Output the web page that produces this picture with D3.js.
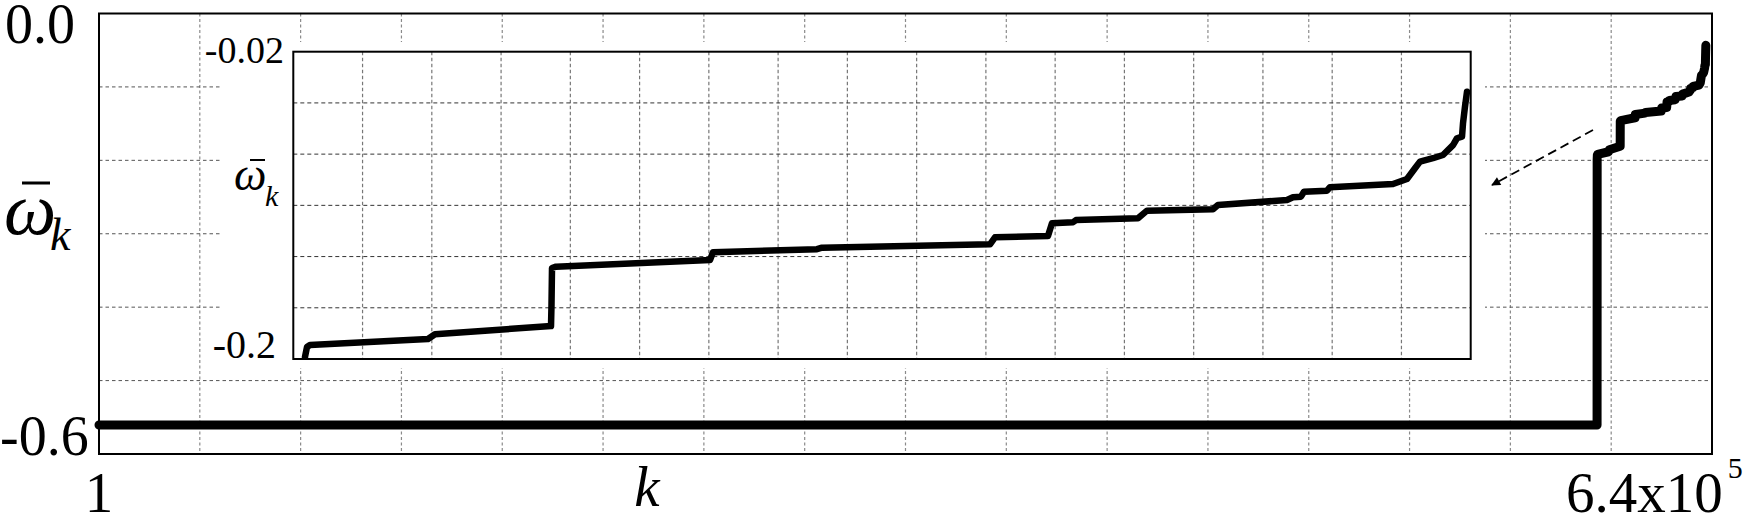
<!DOCTYPE html>
<html><head><meta charset="utf-8">
<script src="https://cdn.jsdelivr.net/npm/d3@7"></script>
<style>
body{margin:0;background:#fff}
svg{display:block}
text{font-family:"Liberation Serif","Times New Roman",serif;fill:#000}
</style>
</head><body>
<svg id="c" width="1748" height="518"></svg>
<script>
// ---- data ----
const kValues = [1, 594400, 594434, 594508, 594620, 598999, 599259, 603565, 603583, 603602, 603750,
  609466, 609577, 613437, 613623, 619858, 620043, 622010, 622159, 622938, 623050, 625351, 625685,
  628135, 628320, 630881, 631104, 631400, 631512, 632366, 632477, 634816, 635335, 635632, 635818,
  636300, 636672, 637043, 637191, 637377, 637414, 637488, 637563];
const omegaValues = [-0.5605, -0.5605, -0.1988, -0.1930, -0.1918, -0.1883, -0.1855, -0.1807, -0.1684,
  -0.1467, -0.1459, -0.1420, -0.1375, -0.1357, -0.1348, -0.1328, -0.1287, -0.1280, -0.1205, -0.1199,
  -0.1186, -0.1176, -0.1131, -0.1123, -0.1098, -0.1069, -0.1053, -0.1049, -0.1020, -0.1014, -0.0994,
  -0.0975, -0.0946, -0.0883, -0.0844, -0.0824, -0.0805, -0.0747, -0.0707, -0.0698, -0.0620, -0.0522,
  -0.0434];
const mainXDomain = [1, 640000];
const mainYDomain = [-0.6, 0.0];
const insetXDomain = [594000, 637700];
const insetYDomain = [-0.2, -0.02];
const mainYTickLabels = ["0.0", "-0.6"];
const insetYTickLabels = ["-0.02", "-0.2"];
const mainXTickLabels = ["1", "6.4x10", "5"];

const data = kValues.map((k, i) => ({k, w: omegaValues[i]}));
const svg = d3.select("#c");

// ---- main plot ----
const M = {l: 99, t: 13.5, r: 1712, b: 454};
const x = d3.scaleLinear().domain(mainXDomain).range([M.l, M.r]);
const y = d3.scaleLinear().domain(mainYDomain).range([M.b, M.t]);

const mxGrid = d3.range(1, 16).map(i => mainXDomain[0] + i * (mainXDomain[1] - mainXDomain[0]) / 16);
const myGrid = d3.range(1, 6).map(i => mainYDomain[0] + i * (mainYDomain[1] - mainYDomain[0]) / 6);

const gMain = svg.append("g");
gMain.selectAll(".vg").data(mxGrid).join("line")
  .attr("x1", d => x(d)).attr("x2", d => x(d)).attr("y1", M.t).attr("y2", M.b)
  .attr("stroke", "#8a8a8a").attr("stroke-width", 1.2).attr("stroke-dasharray", "3,2.5");
gMain.selectAll(".hg").data(myGrid).join("line")
  .attr("x1", M.l).attr("x2", M.r).attr("y1", d => y(d)).attr("y2", d => y(d))
  .attr("stroke", "#555").attr("stroke-width", 1).attr("stroke-dasharray", "3.5,3");

const line = d3.line().x(d => x(d.k)).y(d => y(d.w));
gMain.append("path").datum(data).attr("d", line)
  .attr("fill", "none").attr("stroke", "#000").attr("stroke-width", 9)
  .attr("stroke-linejoin", "round").attr("stroke-linecap", "round");

gMain.append("rect").attr("x", M.l).attr("y", M.t).attr("width", M.r - M.l).attr("height", M.b - M.t)
  .attr("fill", "none").attr("stroke", "#000").attr("stroke-width", 2);

// ---- inset ----
const I = {l: 293.3, t: 51.7, r: 1470.7, b: 359};
svg.append("rect").attr("x", 222).attr("y", 42).attr("width", 1485 - 222).attr("height", 368 - 42).attr("fill", "#fff");

const xi = d3.scaleLinear().domain(insetXDomain).range([I.l, I.r]);
const yi = d3.scaleLinear().domain(insetYDomain).range([I.b, I.t]);
const ixGrid = d3.range(1, 17).map(i => insetXDomain[0] + i * (insetXDomain[1] - insetXDomain[0]) / 17);
const iyGrid = d3.range(1, 6).map(i => insetYDomain[0] + i * (insetYDomain[1] - insetYDomain[0]) / 6);

svg.append("defs").append("clipPath").attr("id", "ic")
  .append("rect").attr("x", I.l).attr("y", I.t).attr("width", I.r - I.l).attr("height", I.b - I.t);

const gIn = svg.append("g");
gIn.selectAll(".ivg").data(ixGrid).join("line")
  .attr("x1", d => xi(d)).attr("x2", d => xi(d)).attr("y1", I.t).attr("y2", I.b)
  .attr("stroke", "#777").attr("stroke-width", 1.2).attr("stroke-dasharray", "3.5,2.5");
gIn.selectAll(".ihg").data(iyGrid).join("line")
  .attr("x1", I.l).attr("x2", I.r).attr("y1", d => yi(d)).attr("y2", d => yi(d))
  .attr("stroke", "#333").attr("stroke-width", 1).attr("stroke-dasharray", "4,3");

const lineI = d3.line().x(d => xi(d.k)).y(d => yi(d.w));
gIn.append("path").datum(data).attr("d", lineI).attr("clip-path", "url(#ic)")
  .attr("fill", "none").attr("stroke", "#000").attr("stroke-width", 6.5)
  .attr("stroke-linejoin", "round").attr("stroke-linecap", "round");

gIn.append("rect").attr("x", I.l).attr("y", I.t).attr("width", I.r - I.l).attr("height", I.b - I.t)
  .attr("fill", "none").attr("stroke", "#000").attr("stroke-width", 2);

// ---- arrow ----
const defs = svg.select("defs");
defs.append("marker").attr("id", "ah").attr("viewBox", "0 0 10 10").attr("refX", 9).attr("refY", 5)
  .attr("markerWidth", 13).attr("markerHeight", 9).attr("markerUnits", "userSpaceOnUse")
  .attr("orient", "auto").append("path").attr("d", "M0,0L10,5L0,10z").attr("fill", "#000");
svg.append("line").attr("x1", 1593).attr("y1", 130).attr("x2", 1492).attr("y2", 185)
  .attr("stroke", "#000").attr("stroke-width", 1.8).attr("stroke-dasharray", "9,5")
  .attr("marker-end", "url(#ah)");

// ---- texts ----
svg.append("text").attr("x", 5).attr("y", 43).attr("font-size", 56).text(mainYTickLabels[0]);
svg.append("text").attr("x", 0).attr("y", 455).attr("font-size", 56).text(mainYTickLabels[1]);
svg.append("text").attr("x", x(mainXDomain[0])).attr("y", 512).attr("font-size", 57)
  .attr("text-anchor", "middle").text(mainXTickLabels[0]);
const tx = svg.append("text").attr("x", 1566).attr("y", 512).attr("font-size", 57);
tx.append("tspan").text(mainXTickLabels[1]);
tx.append("tspan").attr("font-size", 30).attr("dy", -34).attr("dx", 5).text(mainXTickLabels[2]);
svg.append("text").attr("x", 647).attr("y", 506).attr("font-size", 57).attr("font-style", "italic")
  .attr("text-anchor", "middle").text("k");

// main y label
svg.append("text").attr("x", 4).attr("y", 234).attr("font-size", 74).attr("font-style", "italic").text("ω");
svg.append("line").attr("x1", 22).attr("x2", 50).attr("y1", 183).attr("y2", 183).attr("stroke", "#000").attr("stroke-width", 3);
svg.append("text").attr("x", 50).attr("y", 250).attr("font-size", 46).attr("font-style", "italic").text("k");

// inset labels
svg.append("text").attr("x", 284).attr("y", 63).attr("font-size", 38).attr("text-anchor", "end").text(insetYTickLabels[0]);
svg.append("text").attr("x", 276).attr("y", 358).attr("font-size", 40).attr("text-anchor", "end").text(insetYTickLabels[1]);
svg.append("text").attr("x", 234).attr("y", 190).attr("font-size", 46).attr("font-style", "italic").text("ω");
svg.append("line").attr("x1", 250).attr("x2", 265).attr("y1", 160).attr("y2", 160).attr("stroke", "#000").attr("stroke-width", 2);
svg.append("text").attr("x", 265).attr("y", 206).attr("font-size", 30).attr("font-style", "italic").text("k");
</script>
</body></html>
